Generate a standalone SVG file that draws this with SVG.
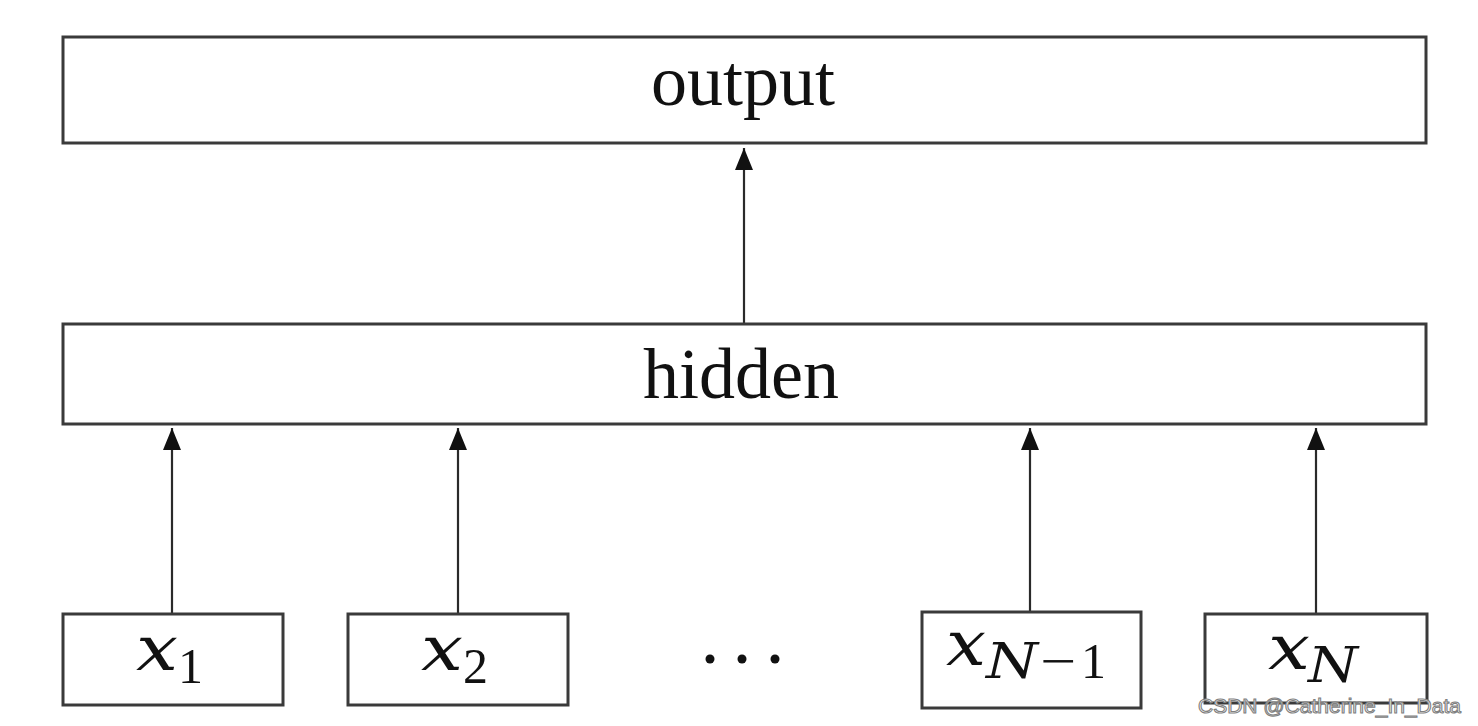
<svg xmlns="http://www.w3.org/2000/svg" width="1478" height="726" viewBox="0 0 1478 726">
<style>
.box{fill:#fff;stroke:#3a3a3a;stroke-width:3}
.lbl{font-family:"Liberation Serif","Times New Roman",serif;fill:#111}
.big{font-size:72px}
.mx{font-family:"DejaVu Serif",serif;font-style:italic;font-size:62px}
.sub{font-size:50px}
.subi{font-family:"DejaVu Serif",serif;font-style:italic;font-size:49px}
.conn{stroke:#2a2a2a;stroke-width:2.2;fill:none;marker-end:url(#ah)}
.wm{font-family:"Liberation Sans",Arial,sans-serif;font-size:21px;fill:#fff;stroke:#808080;stroke-width:1.1}
</style>
<defs>
<marker id="ah" markerUnits="userSpaceOnUse" markerWidth="22" markerHeight="18" refX="22" refY="9" orient="auto">
<path d="M0,0 L22,9 L0,18 z" fill="#111"/>
</marker>
</defs>
<rect width="1478" height="726" fill="#fff"/>
<g id="connectors">
<line class="conn" x1="744" y1="324" x2="744" y2="148"/>
<line class="conn" x1="172" y1="614" x2="172" y2="428"/>
<line class="conn" x1="458" y1="614" x2="458" y2="428"/>
<line class="conn" x1="1030" y1="612" x2="1030" y2="428"/>
<line class="conn" x1="1316" y1="614" x2="1316" y2="428"/>
</g>
<g id="output">
<rect class="box" x="63" y="37" width="1363" height="106"/>
<text class="lbl big" x="743" y="105" text-anchor="middle">output</text>
</g>
<g id="hidden">
<rect class="box" x="63" y="324" width="1363" height="100"/>
<text class="lbl big" x="741" y="398" text-anchor="middle">hidden</text>
</g>
<g id="x1">
<rect class="box" x="63" y="614" width="220" height="91"/>
<text class="lbl" y="670"><tspan class="mx" x="136" textLength="42" lengthAdjust="spacingAndGlyphs">x</tspan><tspan class="sub" x="178" y="683">1</tspan></text>
</g>
<g id="x2">
<rect class="box" x="348" y="614" width="220" height="91"/>
<text class="lbl" y="670"><tspan class="mx" x="421" textLength="42" lengthAdjust="spacingAndGlyphs">x</tspan><tspan class="sub" x="463" y="683">2</tspan></text>
</g>
<g id="dots">
<circle cx="710" cy="659" r="4.5" fill="#111"/>
<circle cx="742" cy="659" r="4.5" fill="#111"/>
<circle cx="775" cy="659" r="4.5" fill="#111"/>
</g>
<g id="xN-1">
<rect class="box" x="922" y="612" width="219" height="96"/>
<text class="lbl" y="665"><tspan class="mx" x="946" textLength="40" lengthAdjust="spacingAndGlyphs">x</tspan><tspan class="subi" x="986" y="678" textLength="52" lengthAdjust="spacingAndGlyphs">N</tspan><tspan class="sub" x="1040" y="678" textLength="36" lengthAdjust="spacingAndGlyphs">−</tspan><tspan class="sub" x="1081" y="678">1</tspan></text>
</g>
<g id="xN">
<rect class="box" x="1205" y="614" width="222" height="89"/>
<text class="lbl" y="669"><tspan class="mx" x="1268" textLength="42" lengthAdjust="spacingAndGlyphs">x</tspan><tspan class="subi" x="1308" y="682" textLength="50" lengthAdjust="spacingAndGlyphs">N</tspan></text>
</g>
<text class="wm" x="1198" y="713">CSDN @Catherine_In_Data</text>
</svg>
